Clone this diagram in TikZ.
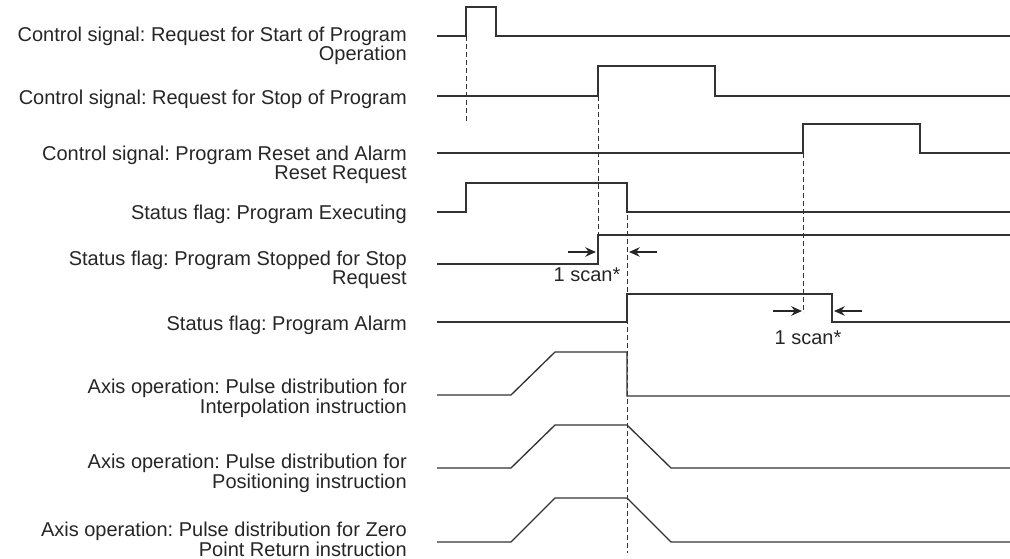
\documentclass[tikz,border=0pt]{standalone}
\usepackage{fontspec}
\setmainfont{Liberation Sans}
\frenchspacing
\usetikzlibrary{arrows.meta, positioning}
\tikzset{
    siglabel/.style={anchor=base east, align=right, inner sep=0pt, text=black!85, font=\fontsize{15}{14.6}\selectfont},
    scantext/.style={anchor=base, inner sep=0pt, text=black!85, font=\fontsize{15}{14.6}\selectfont},
    wave/.style={line width=1pt, draw=black!80, line join=miter},
    marker/.style={line width=0.75pt, draw=black!80, dash pattern=on 3.75pt off 2.25pt},
    scanarrow/.style={line width=1.8pt, draw=black!85, -{Stealth[length=8pt, width=7pt]}}
}

\begin{document}
\begin{tikzpicture}[x=0.75pt, y=-0.75pt]
    \useasboundingbox (0,0) rectangle (1010,559);

    % signal names (base = last line)
    \node (start) [siglabel] at (407,61) {Control signal: Request for Start of Program\\Operation};
    \node (stop) [siglabel] at (407,105) {Control signal: Request for Stop of Program};
    \node (reset) [siglabel] at (407,180) {Control signal: Program Reset and Alarm\\Reset Request};
    \node (exec) [siglabel] at (407,220) {Status flag: Program Executing};
    \node (stopped) [siglabel] at (407,285) {Status flag: Program Stopped for Stop\\Request};
    \node (alarm) [siglabel] at (407,331) {Status flag: Program Alarm};
    \node (interp) [siglabel] at (407,413) {Axis operation: Pulse distribution for\\Interpolation instruction};
    \node (posn) [siglabel] at (407,488) {Axis operation: Pulse distribution for\\Positioning instruction};
    \node (zret) [siglabel] at (407,556) {Axis operation: Pulse distribution for Zero\\Point Return instruction};

    % waveforms
    \draw [wave] (437,36) -- (466,36) -- (466,7) -- (496,7) -- (496,36) -- (1010,36);
    \draw [wave] (437,96) -- (598,96) -- (598,66) -- (715,66) -- (715,96) -- (1010,96);
    \draw [wave] (437,153) -- (803,153) -- (803,124) -- (920,124) -- (920,153) -- (1010,153);
    \draw [wave] (437,212) -- (466,212) -- (466,183) -- (627,183) -- (627,212) -- (1010,212);
    \draw [wave] (437,264) -- (598,264) -- (598,235) -- (1010,235);
    \draw [wave] (437,322) -- (627,322) -- (627,294) -- (832,294) -- (832,322) -- (1010,322);
    \draw [wave] (437,395) -- (511,395) -- (555,352) -- (627,352) -- (627,396) -- (1010,396);
    \draw [wave] (437,468) -- (511,468) -- (555,425) -- (627,425) -- (671,468) -- (1010,468);
    \draw [wave] (437,542) -- (511,542) -- (555,498) -- (627,498) -- (671,542) -- (1010,542);

    % timing marks
    \draw [marker] (466,36) -- (466,123);
    \draw [marker] (598,96) -- (598,264);
    \draw [marker] (803,153) -- (803,313);
    \draw [marker] (627,183) -- (627,553);

    % one scan delays
    \coordinate (a1) at (568,252);
    \coordinate (a2) at (596,252);
    \coordinate (b1) at (657,252);
    \coordinate (b2) at (629,252);
    \draw [scanarrow] (a1) -- (a2);
    \draw [scanarrow] (b1) -- (b2);
    \node (scanA) [scantext] at (587,282) {1 scan*};

    \coordinate (c1) at (773,311);
    \coordinate (c2) at (802,311);
    \coordinate (d1) at (862,311);
    \coordinate (d2) at (834,311);
    \draw [scanarrow] (c1) -- (c2);
    \draw [scanarrow] (d1) -- (d2);
    \node (scanB) [scantext] at (808,345) {1 scan*};
\end{tikzpicture}
\end{document}
